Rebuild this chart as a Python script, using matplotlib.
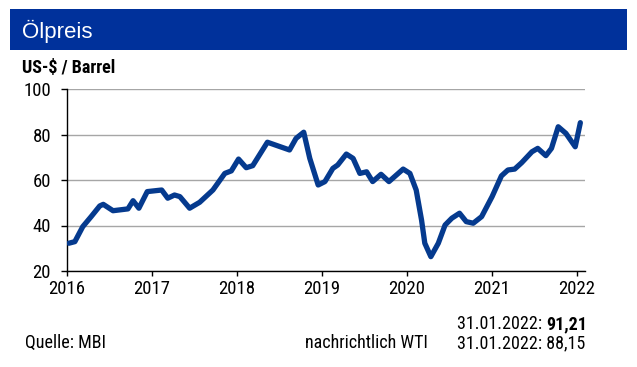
import matplotlib
matplotlib.use("Agg")
import matplotlib.pyplot as plt
import pandas as pd

NARROW = ["Roboto Condensed", "Liberation Sans"]
REG = ["Liberation Sans"]

# ---- data (Brent, US-$ / Barrel) ----
dates = ["2016-01-10", "2016-02-05", "2016-03-10", "2016-04-15", "2016-05-22", "2016-06-06",
         "2016-07-18", "2016-09-20", "2016-10-12", "2016-11-06", "2016-12-12", "2017-02-12",
         "2017-03-10", "2017-04-08", "2017-05-01", "2017-06-12", "2017-07-25", "2017-09-20",
         "2017-11-10", "2017-12-08", "2018-01-08", "2018-02-10", "2018-03-10", "2018-05-12",
         "2018-08-15", "2018-09-12", "2018-10-15", "2018-11-10", "2018-12-16", "2019-01-14",
         "2019-02-17", "2019-03-10", "2019-04-16", "2019-05-15", "2019-06-13", "2019-07-12",
         "2019-08-07", "2019-09-12", "2019-10-16", "2019-12-16", "2020-01-14", "2020-02-10",
         "2020-03-04", "2020-03-18", "2020-04-13", "2020-05-15", "2020-06-13", "2020-07-12",
         "2020-08-14", "2020-09-12", "2020-10-12", "2020-11-17", "2021-01-01", "2021-02-10",
         "2021-03-10", "2021-04-08", "2021-05-08", "2021-06-21", "2021-07-16", "2021-08-20",
         "2021-09-13", "2021-10-12", "2021-11-14", "2021-12-24", "2022-01-15"]
prices = [32.2, 32.9, 39.5, 43.9, 48.6, 49.3,
          46.5, 47.3, 50.9, 47.6, 54.9, 55.6,
          52.0, 53.4, 52.7, 47.6, 50.2, 55.6,
          62.9, 64.0, 69.2, 65.4, 66.3, 76.6,
          73.2, 78.3, 81.0, 69.5, 57.8, 59.3,
          65.1, 66.6, 71.4, 69.5, 62.9, 63.6,
          59.3, 62.5, 59.3, 64.8, 62.9, 55.6,
          42.4, 32.2, 26.3, 32.2, 40.2, 43.2,
          45.4, 41.7, 41.0, 43.9, 52.7, 61.8,
          64.4, 64.8, 67.6, 72.4, 73.9, 70.7,
          73.9, 83.4, 80.5, 74.6, 85.2]
year_ticks = ["2016", "2017", "2018", "2019", "2020", "2021", "2022"]
y_ticks = [20, 40, 60, 80, 100]

title = "Ölpreis"
unit = "US-$ / Barrel"
source = "Quelle: MBI"
brent_date, brent_val = "31.01.2022:", "91,21"
wti_label, wti_date, wti_val = "nachrichtlich WTI", "31.01.2022:", "88,15"

W, H = 637, 367
fig = plt.figure(figsize=(W / 100, H / 100), dpi=100)
fig.patch.set_facecolor("white")

# header band
hdr = fig.add_axes([10 / W, 1 - 50 / H, 617 / W, 41 / H])
hdr.set_facecolor("#00319B")
hdr.set_xticks([]); hdr.set_yticks([])
for s in hdr.spines.values():
    s.set_visible(False)
fig.text(22 / W, 1 - 31 / H, title, color="white", fontsize=16, family=REG,
         va="center", ha="left")
fig.text(22 / W, 1 - 68 / H, unit, color="black", fontsize=13, family=NARROW,
         fontweight="bold", va="center", ha="left")

ax = fig.add_axes([66.7 / W, 1 - 271 / H, (585 - 66.7) / W, (271 - 89) / H])
x = pd.to_datetime(dates)
ax.plot(x, prices, color="#053A8E", lw=3.8, solid_joinstyle="round",
        solid_capstyle="round", zorder=3)

ax.set_ylim(20, 100)
ax.set_yticks(y_ticks)
ax.set_xlim(pd.Timestamp("2016-01-01"), pd.Timestamp("2022-02-04"))
ax.set_xticks(pd.to_datetime([f"{y}-01-01" for y in year_ticks]))
ax.set_xticklabels(year_ticks)
ax.grid(axis="y", color="#A6A6A6", lw=1.0)
ax.set_axisbelow(True)
for s in ["top", "right"]:
    ax.spines[s].set_visible(False)
for s in ["left", "bottom"]:
    ax.spines[s].set_color("black")
    ax.spines[s].set_linewidth(1.0)
ax.tick_params(axis="both", direction="out", width=1, color="black", labelsize=13.5)
ax.tick_params(axis="x", length=3.6, pad=3)
ax.tick_params(axis="y", length=4.3, pad=7)
for lab in ax.get_xticklabels() + ax.get_yticklabels():
    lab.set_family(NARROW)

# footer texts
fs = 13
fig.text(25 / W, 1 - 343 / H, source, fontsize=fs, family=NARROW, va="center", ha="left")
fig.text(428 / W, 1 - 343 / H, wti_label, fontsize=fs, family=NARROW, va="center", ha="right")
t1 = fig.text(457 / W, 1 - 324 / H, brent_date + " ", fontsize=fs, family=NARROW,
              va="center", ha="left")
t2 = fig.text(457 / W, 1 - 343 / H, wti_date + " " + wti_val, fontsize=fs, family=NARROW,
              va="center", ha="left")
fig.canvas.draw()
bb = t1.get_window_extent()
fig.text(bb.x1 / W, 1 - 324 / H, brent_val, fontsize=fs, family=NARROW,
         fontweight="bold", va="center", ha="left")

fig.savefig("out.png", dpi=100, facecolor="white")
